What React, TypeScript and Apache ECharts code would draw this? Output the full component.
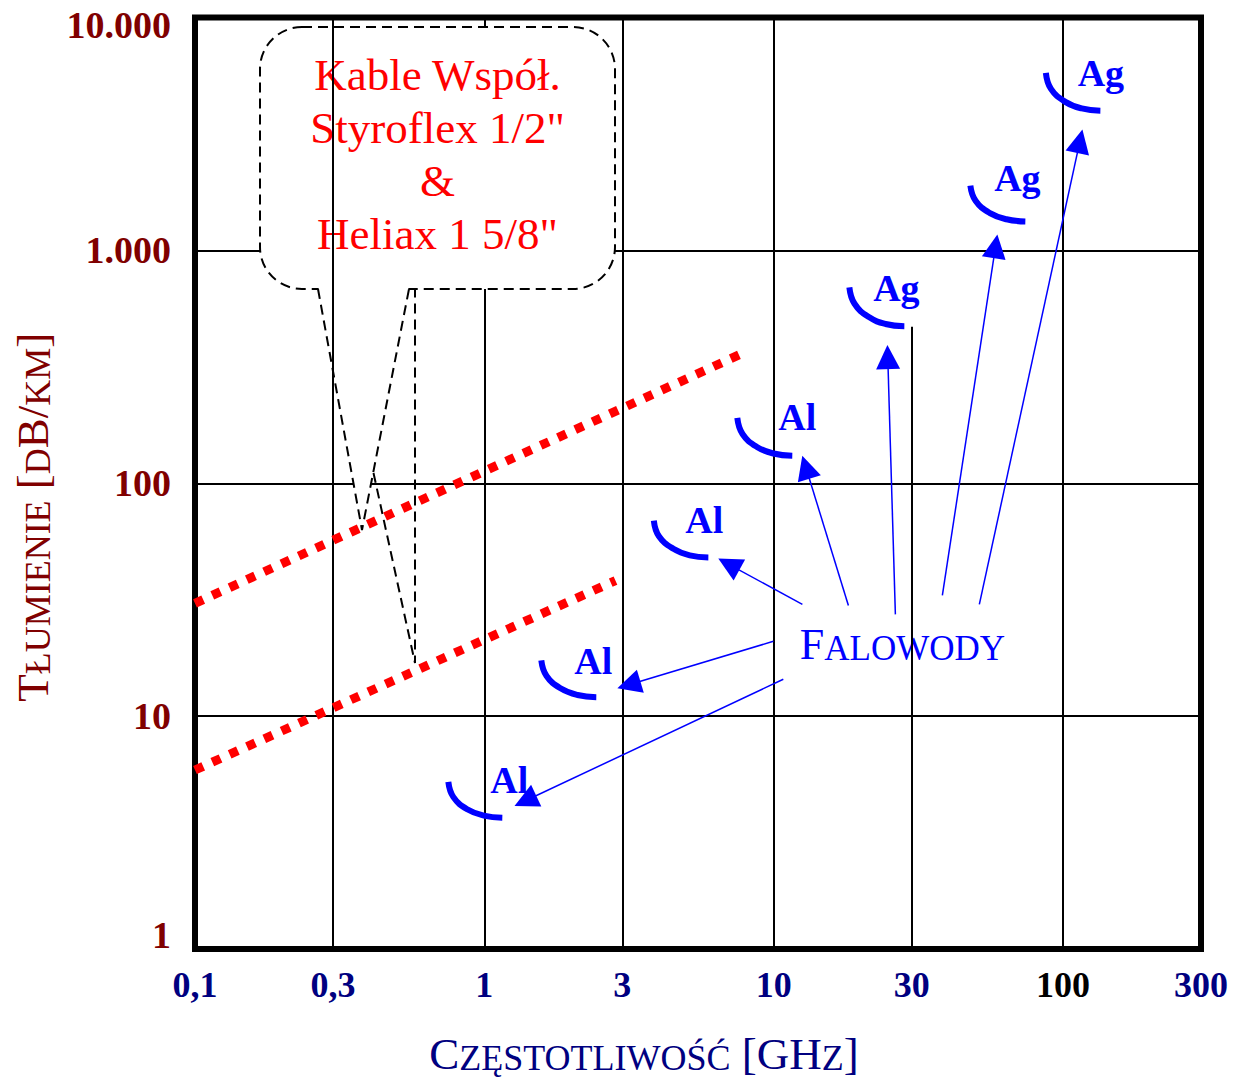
import React, { useEffect, useRef } from 'react';
import * as echarts from 'echarts';

const SERIF = '"Times New Roman", "Liberation Serif", serif';
const NAVY = '#000080';
const MAROON = '#800000';
const BLUE = '#0000ff';
const RED = '#ff0000';

// ---- axes ----
const X_MIN = 0.1;
const X_MAX = 300;
const Y_MIN = 1;
const Y_MAX = 10000;
const xTickValues = [0.1, 1, 10, 100, 300];
const xTickTexts = ['0,1', '1', '10', '100', '300'];
const xExtraValues = [0.3, 3];
const xExtraTexts = ['0,3', '3'];
const x30Value = 30;
const x30Text = '30';
const x30LineTop = 470; // the 30 GHz grid line stops here (hidden above)
const yTickValues = [1, 10, 100, 1000, 10000];
const yTickTexts = ['1', '10', '100', '1.000', '10.000'];

// ---- coaxial cables (red dotted) ----
const styroflexLine = [[0.1, 30.5], [7.67, 358]];
const heliaxLine = [[0.1, 5.87], [2.84, 38.2]];

// ---- waveguide attenuation arcs ----
const wgAl1 = [[0.751, 5.22], [0.782, 4.49], [0.876, 3.97], [0.996, 3.74], [1.154, 3.66]];
const wgAl2 = [[1.574, 17.37], [1.641, 14.88], [1.84, 13.14], [2.1, 12.32], [2.438, 12.06]];
const wgAl3 = [[3.854, 69.1], [4.014, 59.2], [4.502, 52.3], [5.129, 49.0], [5.948, 47.97]];
const wgAl4 = [[7.489, 190.8], [7.806, 162.8], [8.756, 143.2], [9.993, 134.2], [11.6, 131.2]];
const wgAg1 = [[18.27, 694], [19.04, 590], [21.35, 517], [24.37, 483], [28.3, 472.5]];
const wgAg2 = [[47.86, 1898], [49.88, 1634], [55.94, 1446], [63.83, 1360], [74.13, 1331]];
const wgAg3 = [[87.28, 5785], [90.89, 4937], [101.9, 4342], [116.1, 4069], [134.7, 3979]];
const waveguides = [wgAl1, wgAl2, wgAl3, wgAl4, wgAg1, wgAg2, wgAg3];

// ---- waveguide material labels ----
const materialNames = ['Al', 'Al', 'Al', 'Al', 'Ag', 'Ag', 'Ag'];
const materialPos = [[1.22, 5.32], [2.381, 17.2], [5.761, 69.8], [12.07, 192.7], [26.56, 691], [69.58, 2054], [135.2, 5785]];

// ---- "Falowody" label and its arrows ----
const falowodyPos = [27.86, 20.34];
const arrowFrom = [[10.8, 14.4], [9.98, 20.95], [12.57, 30.17], [18.13, 29.88], [26.35, 27.35], [38.3, 32.98], [51.4, 30.17]];
const arrowTo = [[1.386, 4.33], [3.159, 13.64], [7.0, 44.86], [12.92, 117.1], [24.8, 348.2], [58.48, 1041], [114.4, 2939]];

// ---- callout (annotation, pixels) ----
const calloutLines = ['Kable Współ.', 'Styroflex 1/2"', '&', 'Heliax 1 5/8"'];

function nearestIdx(arr: number[], v: number) {
  let best = 0;
  let bd = Infinity;
  arr.forEach((a, i) => {
    const d = Math.abs(Math.log10(a) - Math.log10(v));
    if (d < bd) { bd = d; best = i; }
  });
  return best;
}

const tickFont = { fontFamily: SERIF, fontWeight: 'bold' as const, fontSize: 36 };
const noBorder = { textBorderWidth: 0, textBorderColor: 'transparent', textShadowBlur: 0, opacity: 1 };

function buildOption(): any {
  const dash = { stroke: '#000', lineWidth: 2, lineDash: [10, 6] };
  const calloutGraphic = [
    {
      type: 'rect', z: 1, silent: true,
      shape: { x: 260, y: 27, width: 355, height: 262, r: 42 },
      style: { fill: '#fff', ...dash },
    },
    {
      type: 'polygon', z: 1, silent: true,
      shape: { points: [[318, 285], [362, 530], [409, 285]] },
      style: { fill: '#fff' },
    },
    {
      type: 'polyline', z: 1, silent: true,
      shape: { points: [[318, 289], [362, 530], [409, 289]] },
      style: { fill: null, ...dash },
    },
    {
      type: 'polyline', z: 1, silent: true,
      shape: { points: [[373.5, 473], [415, 663], [415, 289]] },
      style: { fill: null, ...dash },
    },
    {
      type: 'text', z: 1, silent: true,
      x: 437.5, y: 154.5,
      style: {
        text: calloutLines.join('\n'),
        fill: RED, fontFamily: SERIF, fontSize: 45, lineHeight: 53,
        align: 'center', verticalAlign: 'middle',
      },
    },
  ];

  const gridLineSeries = {
    type: 'line', z: 0, silent: true, data: [[X_MIN, Y_MIN]], symbol: 'none', showSymbol: false,
    lineStyle: { opacity: 0 },
    markLine: {
      silent: true, symbol: ['none', 'none'], animation: false,
      lineStyle: { color: '#000', width: 2, type: 'solid' },
      label: {
        show: true, position: 'start', distance: 18, formatter: '{b}',
        color: NAVY, ...tickFont,
      },
      emphasis: { disabled: true },
      data: [
        ...xExtraValues.map((v, i) => ({ xAxis: v, name: xExtraTexts[i] })),
        [{ coord: [x30Value, Y_MIN], name: x30Text }, { coord: [x30Value, x30LineTop] }],
      ],
    },
  };

  const coaxSeries = [styroflexLine, heliaxLine].map((d) => ({
    type: 'line', z: 5, silent: true, data: d, symbol: 'none',
    lineStyle: { color: RED, width: 9, type: [9, 10], cap: 'butt' },
  }));

  const arcSeries = waveguides.map((d) => ({
    type: 'line', z: 5, silent: true, data: d, symbol: 'none', smooth: 0.45,
    lineStyle: { color: BLUE, width: 6, cap: 'butt' },
  }));

  const labelSeries = {
    type: 'scatter', z: 5, silent: true, symbolSize: 0.01,
    itemStyle: { color: BLUE },
    data: materialPos.map((p, i) => ({ value: p, name: materialNames[i] })),
    label: {
      show: true, position: 'inside', formatter: '{b}',
      color: BLUE, fontFamily: SERIF, fontWeight: 'bold', fontSize: 38, ...noBorder,
    },
  };

  const falowodySeries = {
    type: 'scatter', z: 4, silent: true, symbolSize: 0.01,
    itemStyle: { color: BLUE },
    data: [{ value: falowodyPos, name: 'Falowody' }],
    label: {
      show: true, position: 'inside',
      formatter: '{F|F}{s|ALOWODY}',
      backgroundColor: '#fff', padding: [20, 6], ...noBorder,
      rich: {
        F: { fontFamily: SERIF, fontSize: 44, lineHeight: 44, verticalAlign: 'bottom', color: BLUE, ...noBorder },
        s: { fontFamily: SERIF, fontSize: 35, lineHeight: 38, verticalAlign: 'bottom', color: BLUE, ...noBorder },
      },
    },
  };

  const arrowSeries = {
    type: 'lines', coordinateSystem: 'cartesian2d', z: 5, silent: true,
    symbol: ['none', 'triangle'], symbolSize: 24,
    lineStyle: { color: BLUE, width: 1.5, opacity: 1, curveness: 0 },
    itemStyle: { color: BLUE },
    data: arrowFrom.map((f, i) => ({ coords: [f, arrowTo[i]] })),
  };

  const bigT = (size: number, lh: number, color: string) => ({
    fontFamily: SERIF, fontSize: size, lineHeight: lh, verticalAlign: 'bottom', color,
  });

  return {
    animation: false,
    backgroundColor: '#fff',
    grid: {
      left: 195, top: 17.5, right: 33, bottom: 129.5,
      show: true, borderColor: '#000', borderWidth: 6, backgroundColor: 'rgba(0,0,0,0)',
    },
    xAxis: {
      type: 'log', logBase: 10, min: X_MIN, max: X_MAX,
      axisLine: { show: false }, axisTick: { show: false },
      splitLine: { show: true, lineStyle: { color: '#000', width: 2 } },
      axisLabel: {
        margin: 18, showMinLabel: true, showMaxLabel: true,
        color: NAVY, ...tickFont,
        formatter: (v: number) => {
          const i = nearestIdx(xTickValues, v);
          const t = xTickTexts[i];
          return t === '100' ? '{k|' + t + '}' : t;
        },
        rich: { k: { color: '#000', ...tickFont } },
      },
      name: '{b|C}{s|ZĘSTOTLIWOŚĆ}{b| [GH}{s|Z}{b|]}',
      nameLocation: 'middle', nameGap: 82,
      nameTextStyle: {
        padding: [0, 108, 0, 0],
        rich: { b: bigT(45, 45, NAVY), s: bigT(36, 39, NAVY) },
      },
    },
    yAxis: {
      type: 'log', logBase: 10, min: Y_MIN, max: Y_MAX,
      axisLine: { show: false }, axisTick: { show: false },
      splitLine: { show: true, lineStyle: { color: '#000', width: 2 } },
      axisLabel: {
        margin: 24, showMinLabel: true, showMaxLabel: true,
        color: MAROON, fontFamily: SERIF, fontWeight: 'bold', fontSize: 38,
        formatter: (v: number) => {
          const i = nearestIdx(yTickValues, v);
          const t = yTickTexts[i];
          if (i === 0) return '{lo|' + t + '}';
          if (i === yTickValues.length - 1) return '{hi|' + t + '}';
          return t;
        },
        rich: {
          lo: { color: MAROON, fontFamily: SERIF, fontWeight: 'bold', fontSize: 38, padding: [0, 0, 29, 0] },
          hi: { color: MAROON, fontFamily: SERIF, fontWeight: 'bold', fontSize: 38, padding: [14, 0, 0, 0] },
        },
      },
      name: '{b|T}{s|ŁUMIENIE}{b| [}{s|D}{b|B/}{s|KM}{b|]}',
      nameLocation: 'middle', nameGap: 137, nameRotate: 90,
      nameTextStyle: {
        padding: [0, 68, 0, 0],
        rich: { b: bigT(45, 45, MAROON), s: bigT(36, 39, MAROON) },
      },
    },
    graphic: calloutGraphic,
    series: [gridLineSeries, ...coaxSeries, ...arcSeries, labelSeries, falowodySeries, arrowSeries],
  };
}

export default function App() {
  const ref = useRef<HTMLDivElement>(null);
  useEffect(() => {
    if (!ref.current) return;
    const chart = echarts.init(ref.current, null, { renderer: 'svg' });
    chart.setOption(buildOption());
    return () => chart.dispose();
  }, []);
  return (
    <div
      ref={ref}
      style={{ position: 'fixed', left: 0, top: 0, width: 1234, height: 1081, background: '#fff' }}
    />
  );
}
